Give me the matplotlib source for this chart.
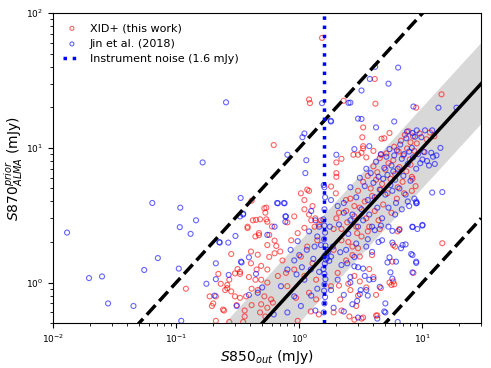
import numpy as np
import matplotlib
matplotlib.use("Agg")
import matplotlib.pyplot as plt

# XID+ (this work): S850_out vs S870 prior ALMA, mJy
red_x = [1.53, 1.2, 1.22, 2.29, 4.1, 4.15, 14.3, 8.9, 0.62, 1.2, 0.12, 0.41, 0.54, 0.38, 0.42, 0.44, 0.54,
         14.5, 8.45, 4.2, 4.65, 3.3, 3.25, 3.3, 2.75, 2.2, 2.0, 2.0, 2.0, 3.2,
         0.445, 0.38, 0.47, 0.28, 0.405, 0.405, 0.39, 0.315, 0.33, 0.30, 0.27, 0.26, 0.26, 0.187, 0.21, 0.2,
         0.195, 0.24, 0.245, 0.30, 0.33, 0.37, 0.31, 0.36, 0.36, 0.41, 0.21, 0.46, 0.45, 0.44, 0.41,
         0.52, 0.53, 0.48, 0.55, 0.6, 0.47, 0.57, 0.63, 0.55, 0.65, 0.70, 0.63, 0.57, 0.73, 0.49, 0.55,
         0.67, 0.78, 0.49, 0.55, 0.46, 0.52, 0.59, 0.49, 0.55, 0.61, 0.48, 0.53, 0.97, 1.1, 1.03, 1.16,
         1.28, 1.1, 0.91, 0.8, 1.1, 0.97, 1.33, 0.86, 1.16, 1.4, 1.03, 1.28, 0.91, 1.1, 1.37, 0.8, 1.2,
         0.94, 1.37, 1.24, 1.44, 1.81, 1.98, 2.39, 2.1, 2.8, 2.45, 1.9, 2.95, 2.2, 2.7, 1.9, 3.1, 2.4,
         2.05, 2.8, 1.81, 2.6, 2.15, 2.9, 1.9, 2.55, 3.2,
         5.7, 5.8, 3.7, 4.6, 4.2, 5.4, 5.8, 3.9, 3.0,
         2.0, 2.2, 2.4, 2.5, 2.6, 2.8, 2.9, 3.0, 3.1, 3.2, 3.3, 3.4, 3.5, 3.6, 3.7, 3.8, 3.9, 4.0, 4.1,
         4.2, 4.3, 4.4, 4.5, 4.6, 4.7, 4.8, 5.0, 5.1, 5.2, 5.3, 5.5, 5.6, 5.8, 5.9, 6.0, 6.2, 6.4, 6.5,
         6.7, 6.9, 7.0, 7.2, 7.4, 7.5, 7.7, 7.9, 8.0, 8.2, 8.4, 8.6, 8.8, 9.0, 9.5, 10.2, 10.8, 11.5,
         12.5, 3.6, 2.7, 3.0, 4.5, 7.1, 6.3, 4.9, 5.4, 4.0, 3.0, 3.5, 3.3, 4.6, 8.0, 8.3, 8.2,
         2.2, 2.8, 3.3, 2.5, 3.1, 3.5, 2.1, 4.0, 4.3, 5.6, 5.9, 6.0, 6.5, 6.3,
         0.22, 0.23, 0.25, 0.28, 0.33, 0.27, 0.35, 1.2, 1.25, 1.35, 1.45, 1.5]
red_y = [65.6, 22.9, 21.5, 22.4, 32.5, 21.3, 25.0, 19.9, 10.5, 4.8, 0.9, 4.06, 3.6, 2.6, 2.9, 2.2, 2.95,
         1.96, 1.18, 0.81, 11.7, 14.2, 12.0, 10.3, 8.9, 8.3, 7.8, 6.5, 6.1, 9.2,
         2.92, 2.54, 2.25, 1.63, 1.7, 1.39, 1.1, 1.26, 1.16, 1.17, 1.05, 0.96, 0.91, 0.79, 0.79, 0.70,
         0.67, 0.63, 0.62, 0.79, 0.77, 0.79, 0.68, 0.62, 0.56, 0.68, 0.52, 1.61, 1.25, 1.05, 0.9,
         3.56, 3.3, 2.95, 2.83, 2.61, 2.33, 2.26, 2.05, 1.9, 1.87, 1.7, 1.65, 1.55, 1.46, 1.33, 1.25,
         1.12, 1.18, 1.05, 1.0, 0.88, 0.79, 0.75, 0.69, 0.65, 0.71, 0.6, 0.56, 0.52, 4.1, 4.6, 4.9,
         3.7, 3.5, 3.1, 2.8, 2.55, 2.33, 2.6, 2.06, 1.85, 2.06, 1.56, 1.39, 1.25, 1.12, 1.05, 0.94, 0.84,
         0.77, 0.75, 0.61, 0.58, 5.17, 4.6, 4.1, 3.3, 3.7, 2.8, 2.5, 2.33, 2.06, 1.85, 1.75, 1.56, 1.46,
         1.18, 1.12, 0.94, 0.88, 0.75, 0.67, 0.6, 0.56, 0.54,
         1.43, 1.9, 1.26, 0.91, 0.57, 1.0, 1.02, 1.6, 0.8,
         3.0, 2.5, 3.4, 2.0, 4.2, 3.1, 2.6, 4.8, 3.6, 2.2, 5.6, 4.0, 3.0, 6.2, 2.6, 5.0, 4.4, 7.3, 3.4,
         5.8, 6.6, 2.9, 8.4, 4.9, 5.4, 3.8, 6.9, 9.1, 4.6, 7.7, 5.9, 3.3, 8.1, 10.2, 6.4, 4.2, 9.4, 7.2,
         11.3, 5.6, 8.8, 12.5, 6.7, 9.9, 13.3, 8.2, 11.0, 4.8, 12.2, 9.5, 5.2, 10.8, 12.8, 9.4, 11.6, 13.0,
         12.2, 2.4, 1.6, 1.8, 2.5, 4.6, 5.1, 11.8, 12.9, 9.5, 8.9, 8.5, 9.9, 8.9, 7.5, 5.9, 6.1,
         0.62, 0.53, 0.55, 0.98, 1.02, 0.92, 0.95, 1.1, 0.57, 0.96, 0.97, 1.85, 2.5, 2.4,
         1.16, 0.98, 0.88, 0.86, 1.2, 0.51, 0.51, 3.2, 2.9, 3.0, 2.7, 2.9]

# Jin et al. (2018)
blue_x = [0.013, 0.0196, 0.025, 0.028, 0.045, 0.055, 0.071, 0.064, 0.108, 0.107, 0.131, 0.145, 0.105, 0.11,
          0.164, 0.254, 0.176, 0.205, 0.21, 0.226, 0.303, 0.267, 0.334, 0.33, 0.35, 0.34, 0.445, 0.8, 1.06,
          1.1, 1.12, 1.14, 0.75, 0.66, 0.77, 0.63, 1.53, 1.81, 3.0, 2.51, 3.2, 3.74, 4.13, 5.3, 6.35, 5.9,
          4.2, 3.7, 8.45, 13.5, 18.9, 14.0, 12.0, 14.5, 10.0, 8.3, 8.9, 8.3, 8.9, 5.2, 5.0, 5.0, 2.6, 1.8,
          3.2, 2.0, 2.8,
          0.224, 0.265, 0.336, 0.21, 0.31, 0.39, 0.39, 0.35,
          0.67, 0.76, 0.78, 0.77, 0.55, 0.97, 1.33, 1.58, 1.81, 2.05, 2.3, 2.6, 1.77, 1.87, 2.15, 1.81,
          2.45, 2.8, 2.05, 2.6, 3.15, 1.81, 2.3, 2.95, 1.9, 2.3, 0.91, 0.8, 1.24, 1.1, 0.71, 0.91, 1.03,
          0.8, 0.62, 0.46, 0.5,
          1.58, 1.6, 1.62, 1.59, 1.6, 1.63, 1.6, 1.57, 1.61, 1.64, 1.6, 1.66, 1.7, 1.63, 1.59, 1.62, 1.6,
          1.57, 1.6, 1.62, 1.6, 1.68, 1.75, 1.72,
          1.2, 1.35, 1.25, 1.4, 1.0, 1.15, 1.3, 0.85, 1.05, 0.95, 1.4, 1.25, 1.35, 1.45, 1.5, 1.45,
          3.3, 3.4, 3.7, 4.0, 5.7, 3.5, 3.1, 4.9, 6.3, 4.3, 3.6, 3.0, 5.5, 8.3, 6.1, 5.4, 3.9, 3.5, 8.9,
          8.1, 6.7, 7.3, 6.9, 5.7, 4.4, 4.7, 5.7, 6.5, 8.3, 9.1, 10.0, 8.9, 12.0, 4.5, 2.7,
          2.1, 2.3, 2.5, 2.6, 2.7, 2.9, 3.0, 3.1, 3.2, 3.3, 3.4, 3.5, 3.6, 3.7, 3.8, 3.9, 4.0, 4.1, 4.2,
          4.3, 4.4, 4.5, 4.6, 4.7, 4.8, 4.9, 5.0, 5.1, 5.2, 5.3, 5.4, 5.5, 5.6, 5.7, 5.8, 5.9, 6.0, 6.1,
          6.2, 6.3, 6.5, 6.6, 6.8, 7.0, 7.1, 7.3, 7.4, 7.6, 7.8, 8.0, 8.2, 8.4, 8.7, 8.9, 9.2, 9.6, 10.0,
          10.4, 10.9, 11.3, 11.8, 12.2, 12.6, 13.0, 9.0, 9.8, 10.5, 7.5, 8.3,
          2.2, 2.4, 2.8, 3.0, 2.6, 2.9, 3.6, 4.1, 4.6, 5.3, 6.0, 6.8, 7.6, 7.8, 8.6, 9.0]
blue_y = [2.35, 1.08, 1.11, 0.70, 0.67, 1.24, 1.52, 3.9, 3.6, 2.58, 2.3, 2.9, 1.27, 0.52,
          7.8, 21.8, 0.98, 0.80, 1.39, 1.98, 2.22, 1.14, 4.25, 3.1, 3.2, 1.41, 1.16, 8.9, 12.0,
          12.8, 6.5, 8.1, 3.9, 3.9, 3.1, 2.6, 21.5, 15.7, 16.5, 21.6, 26.7, 32.5, 40.0, 30.0, 39.5, 15.7,
          14.2, 10.3, 20.3, 19.9, 19.9, 10.0, 13.5, 4.7, 2.65, 2.6, 4.0, 1.6, 1.4, 1.41, 0.7, 0.6, 21.7, 15.9,
          16.4, 8.9, 9.8,
          2.0, 1.98, 1.43, 1.06, 0.67, 1.54, 0.81, 3.25,
          3.88, 3.88, 3.1, 2.83, 2.26, 2.03, 1.85, 5.3, 4.1, 3.7, 3.3, 2.9, 2.6, 1.85, 1.68, 1.56,
          1.39, 1.32, 1.05, 1.0, 0.88, 0.88, 0.81, 0.73, 0.65, 0.61, 1.46, 1.25, 1.25, 1.05, 0.94, 0.79, 0.67,
          0.6, 0.58, 0.84, 0.92,
          0.6, 0.7, 0.78, 0.87, 0.97, 1.06, 1.16, 1.26, 1.38, 1.48, 1.58, 1.64, 1.75, 1.88, 2.1, 2.35, 2.65,
          2.95, 3.5, 4.3, 5.1, 1.52, 1.45, 1.7,
          2.4, 2.9, 3.4, 2.2, 1.6, 1.75, 1.5, 1.75, 1.3, 1.15, 0.9, 0.8, 0.62, 1.2, 1.9, 2.6,
          1.27, 1.12, 1.05, 1.06, 1.07, 0.88, 0.82, 0.61, 0.51, 0.54, 0.8, 0.55, 1.19, 1.19, 1.43, 1.54, 1.69,
          1.85, 1.43, 1.63, 1.8, 1.92, 1.9, 1.98, 2.0, 2.06, 2.42, 2.46, 2.58, 2.5, 2.68, 3.88, 4.66, 0.93,
          0.69,
          2.7, 3.9, 2.3, 5.1, 3.2, 4.3, 2.6, 6.0, 3.5, 2.9, 5.2, 7.0, 4.1, 3.2, 6.5, 2.6, 5.5, 4.3, 7.9,
          3.6, 6.1, 4.9, 9.0, 3.0, 5.9, 7.1, 4.5, 8.6, 6.3, 3.6, 9.8, 5.3, 7.4, 4.8, 6.7, 8.8, 5.8, 3.9,
          9.6, 7.0, 5.0, 10.6, 8.3, 6.2, 9.0, 4.5, 11.8, 7.6, 9.4, 5.7, 10.0, 8.5, 12.1, 7.0, 9.0, 7.7, 8.2,
          9.3, 8.0, 7.4, 9.2, 8.6, 7.6, 8.8, 13.5, 12.0, 13.5, 13.2, 12.9,
          1.35, 1.75, 1.55, 1.3, 1.1, 1.95, 2.1, 2.45, 2.65, 2.6, 3.2, 3.5, 4.0, 3.7, 4.2, 3.9]

noise_level = 1.6

fig = plt.figure(figsize=(4.91, 3.68), dpi=100)
ax = fig.add_axes([0.108, 0.122, 0.872, 0.842])

xx = np.logspace(-2, np.log10(30), 200)
ax.fill_between(xx, xx / 2, xx * 2, color='grey', alpha=0.3, lw=0)

ax.scatter(red_x, red_y, s=13, facecolors='none', edgecolors='r', alpha=0.6, linewidths=0.8,
           label='XID+ (this work)', zorder=3)
ax.scatter(blue_x, blue_y, s=13, facecolors='none', edgecolors='b', alpha=0.6, linewidths=0.8,
           label='Jin et al. (2018)', zorder=3)

ax.plot(xx, xx, 'k-', lw=2.5, zorder=4)
ax.plot(xx, xx * 10, 'k--', lw=2.5, zorder=4)
ax.plot(xx, xx / 10, 'k--', lw=2.5, zorder=4)
ax.axvline(noise_level, color='b', ls=':', lw=2.5, label='Instrument noise (1.6 mJy)', zorder=4)

ax.set_xscale('log')
ax.set_yscale('log')
ax.set_xlim(0.01, 30)
ax.set_ylim(0.5, 100)
ax.tick_params(labelsize=6.5)
ax.set_xlabel('$S850_{out}$ (mJy)', fontsize=10, labelpad=2)
ax.set_ylabel('$S870^{prior}_{ALMA}$ (mJy)', fontsize=10)
ax.yaxis.set_label_coords(-0.064, 0.5)

ax.legend(loc='upper left', frameon=False, fontsize=8, markerscale=0.8, handlelength=1.6)

plt.savefig('out.png', dpi=100)
plt.close()
